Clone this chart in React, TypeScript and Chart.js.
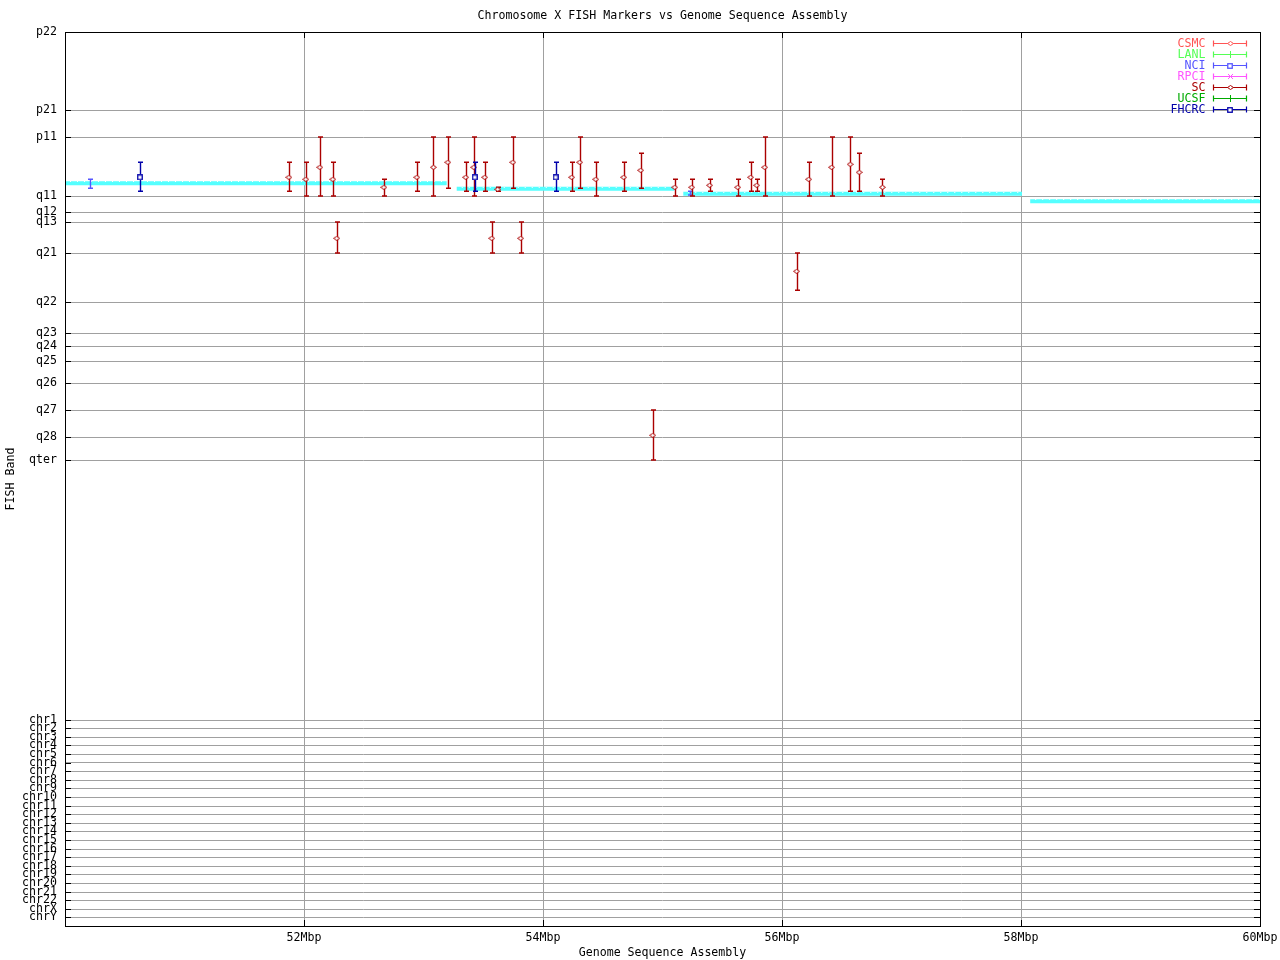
import React, { useEffect, useRef } from "react";
import { Chart, registerables } from "chart.js";

Chart.register(...registerables);

const FONT_FAMILY = '"DejaVu Sans Mono", "Liberation Mono", monospace';
const FONT_SIZE = 11.6;

const chartTitle = "Chromosome X FISH Markers vs Genome Sequence Assembly";
const xTitle = "Genome Sequence Assembly";
const yTitle = "FISH Band";

// Y axis: FISH bands (position along the band axis, top = 0)
const bandLabels = [
  "p22", "p21", "p11", "q11", "q12", "q13", "q21", "q22", "q23", "q24", "q25", "q26", "q27", "q28", "qter",
  "chr1", "chr2", "chr3", "chr4", "chr5", "chr6", "chr7", "chr8", "chr9", "chr10", "chr11", "chr12",
  "chr13", "chr14", "chr15", "chr16", "chr17", "chr18", "chr19", "chr20", "chr21", "chr22", "chrX", "chrY",
];
const bandPos = [
  0, 78, 105, 164, 180, 190, 221, 270, 301, 314, 329, 351, 378, 405, 428,
  688, 696, 705, 713, 722, 730.7, 739, 748, 756.3, 765.3, 774, 782.3,
  791, 799.3, 808.3, 817, 825.3, 834, 842, 851, 860, 868.3, 877.3, 885.3,
];
const bandAxisMax = 894;

// X axis (Mbp)
const xMin = 50;
const xMax = 60;
const xTickValues = [52, 54, 56, 58, 60];

// Legend series
const seriesNames = ["CSMC", "LANL", "NCI", "RPCI", "SC", "UCSF", "FHCRC"];
const seriesColors = ["#ff5555", "#55ff55", "#5555ff", "#ff55ff", "#aa0000", "#00aa00", "#0000aa"];
const seriesMarkers = ["diamond", "plus", "square", "cross", "diamond", "plus", "square"];

// SC markers: position (Mbp), band value, band range low / high
const scX = [
  51.873, 52.015, 52.132, 52.241, 52.274, 52.668, 52.944, 53.083, 53.203, 53.353, 53.42, 53.512,
  53.571, 53.621, 53.747, 53.813, 54.24, 54.307, 54.441, 54.675, 54.817, 54.918, 55.102, 55.244,
  55.394, 55.629, 55.737, 55.788, 55.855, 56.122, 56.223, 56.415, 56.571, 56.646, 56.841,
];
const scY = [
  145.3, 147.3, 135.3, 147.3, 206.3, 155.3, 145.3, 135.3, 130.3, 145.3, 135.3, 145.3,
  206.3, 157.3, 130.3, 206.3, 145.3, 130.3, 147.3, 145.3, 138.3, 403.3, 155.3, 155.3,
  153.3, 155.3, 145.3, 153.3, 135.3, 239.3, 147.3, 135.3, 132.3, 140.3, 155.3,
];
const scLo = [
  130.3, 130.3, 105, 130.3, 190, 147.3, 130.3, 105, 105, 130.3, 105, 130.3,
  190, 155.3, 105, 190, 130.3, 105, 130.3, 130.3, 121.3, 378, 147.3, 147.3,
  147.3, 147.3, 130.3, 147.3, 105, 221, 130.3, 105, 105, 121.3, 147.3,
];
const scHi = [
  159.3, 164, 164, 164, 221, 164, 159.3, 164, 156.3, 159.3, 164, 159.3,
  221, 159.3, 156.3, 221, 159.3, 156.3, 164, 159.3, 156.3, 428, 164, 164,
  159.3, 164, 159.3, 159.3, 164, 258.3, 164, 164, 159.3, 159.3, 164,
];

// FHCRC markers
const fhX = [50.627, 53.429, 54.106];
const fhY = [145.3, 145.3, 145.3];
const fhLo = [130.3, 130.3, 130.3];
const fhHi = [159.3, 159.3, 159.3];

// NCI markers
const nciX = [50.206, 55.23];
const nciY = [151.7, 161.5];
const nciLo = [147.3, 159.3];
const nciHi = [156.3, 163];

// Sequence assembly segments (cyan)
const segStart = [50.0, 53.278, 55.174, 58.077];
const segEnd = [53.194, 55.099, 58.008, 60.0];
const segY = [151.2, 156.7, 161.8, 169.2];

function makeMarker(kind: string, color: string): HTMLCanvasElement {
  const c = document.createElement("canvas");
  const ctx = c.getContext("2d") as CanvasRenderingContext2D;
  if (kind === "diamond") {
    c.width = 7;
    c.height = 5;
    ctx.beginPath();
    ctx.moveTo(0.5, 2.5);
    ctx.lineTo(3.5, 0.5);
    ctx.lineTo(6.5, 2.5);
    ctx.lineTo(3.5, 4.5);
    ctx.closePath();
    ctx.fillStyle = "#ffffff";
    ctx.fill();
    ctx.strokeStyle = color;
    ctx.lineWidth = 1;
    ctx.stroke();
  } else if (kind === "square") {
    c.width = 6;
    c.height = 6;
    ctx.fillStyle = "#ffffff";
    ctx.fillRect(0, 0, 6, 6);
    ctx.strokeStyle = color;
    ctx.lineWidth = 1.3;
    ctx.strokeRect(0.75, 0.75, 4.5, 4.5);
  } else if (kind === "cross") {
    c.width = 7;
    c.height = 7;
    ctx.strokeStyle = color;
    ctx.lineWidth = 1;
    ctx.beginPath();
    ctx.moveTo(1, 1);
    ctx.lineTo(6, 6);
    ctx.moveTo(6, 1);
    ctx.lineTo(1, 6);
    ctx.stroke();
  } else {
    c.width = 3;
    c.height = 7;
    ctx.strokeStyle = color;
    ctx.lineWidth = 1;
    ctx.beginPath();
    ctx.moveTo(1.5, 0);
    ctx.lineTo(1.5, 7);
    ctx.stroke();
  }
  return c;
}

function buildPoints(xs: number[], ys: number[], lo: number[], hi: number[]) {
  return xs.map((x, i) => ({ x, y: ys[i], lo: lo[i], hi: hi[i] }));
}

export default function App() {
  const canvasRef = useRef<HTMLCanvasElement | null>(null);

  useEffect(() => {
    const canvas = canvasRef.current;
    if (!canvas) return;

    const markers = seriesNames.map((_, i) => makeMarker(seriesMarkers[i], seriesColors[i]));
    const colorOf = (name: string) => seriesColors[seriesNames.indexOf(name)];
    const markerOf = (name: string) => markers[seriesNames.indexOf(name)];

    const font = { family: FONT_FAMILY, size: FONT_SIZE, weight: "normal" as const };

    const errorBarPlugin = {
      id: "errorBars",
      beforeDatasetDraw(chart: any, args: any) {
        const ds = chart.data.datasets[args.index];
        if (!ds.errorBars) return;
        const xs = chart.scales.x;
        const ys = chart.scales.y;
        const ctx = chart.ctx as CanvasRenderingContext2D;
        ctx.save();
        ctx.strokeStyle = ds.borderColor;
        ctx.lineWidth = 1.4;
        ctx.lineCap = "butt";
        for (const p of ds.data) {
          const px = Math.round(xs.getPixelForValue(p.x)) + 0.5;
          const top = ys.getPixelForValue(p.lo);
          const bot = ys.getPixelForValue(p.hi);
          ctx.beginPath();
          ctx.moveTo(px, top);
          ctx.lineTo(px, bot);
          ctx.moveTo(px - 2.5, top);
          ctx.lineTo(px + 2.5, top);
          ctx.moveTo(px - 2.5, bot);
          ctx.lineTo(px + 2.5, bot);
          ctx.stroke();
        }
        ctx.restore();
      },
      afterDatasetDraw(chart: any, args: any) {
        const ds = chart.data.datasets[args.index];
        if (!ds.dottedEdge) return;
        const xs = chart.scales.x;
        const ys = chart.scales.y;
        const ctx = chart.ctx as CanvasRenderingContext2D;
        const a = ds.data[0];
        const b = ds.data[ds.data.length - 1];
        const x0 = xs.getPixelForValue(a.x);
        const x1 = xs.getPixelForValue(b.x);
        const yTop = Math.round(ys.getPixelForValue(a.y) - ds.borderWidth / 2) + 0.5;
        ctx.save();
        ctx.strokeStyle = "#ffffff";
        ctx.lineWidth = 1;
        ctx.setLineDash([1, 6]);
        ctx.beginPath();
        ctx.moveTo(x0 + 5, yTop);
        ctx.lineTo(x1, yTop);
        ctx.stroke();
        ctx.restore();
      },
    };

    const framePlugin = {
      id: "frameTicks",
      afterDatasetsDraw(chart: any) {
        const ctx = chart.ctx as CanvasRenderingContext2D;
        const { left, right, top, bottom } = chart.chartArea;
        const xs = chart.scales.x;
        const ys = chart.scales.y;
        ctx.save();
        ctx.strokeStyle = "#000000";
        ctx.lineWidth = 1;
        ctx.beginPath();
        for (const v of bandPos) {
          const py = Math.round(ys.getPixelForValue(v)) + 0.5;
          ctx.moveTo(left, py);
          ctx.lineTo(left + 6, py);
          ctx.moveTo(right, py);
          ctx.lineTo(right - 6, py);
        }
        for (const v of xTickValues) {
          const px = Math.round(xs.getPixelForValue(v)) + 0.5;
          ctx.moveTo(px, bottom);
          ctx.lineTo(px, bottom - 6);
          ctx.moveTo(px, top);
          ctx.lineTo(px, top + 6);
        }
        ctx.stroke();
        ctx.strokeRect(Math.round(left) + 0.5, Math.round(top) + 0.5, Math.round(right - left), Math.round(bottom - top));
        ctx.restore();
      },
    };

    const legendPlugin = {
      id: "insideLegend",
      afterDraw(chart: any) {
        const ctx = chart.ctx as CanvasRenderingContext2D;
        const { right, top } = chart.chartArea;
        const textRight = right - 54.5;
        const lineStart = right - 46.5;
        const lineEnd = right - 13.5;
        const mid = (lineStart + lineEnd) / 2;
        ctx.save();
        ctx.font = `normal ${FONT_SIZE}px ${FONT_FAMILY}`;
        ctx.textAlign = "right";
        ctx.textBaseline = "middle";
        seriesNames.forEach((name, i) => {
          const y = Math.round(top + 11 + i * 11) + 0.5;
          const color = seriesColors[i];
          ctx.fillStyle = color;
          ctx.fillText(name, textRight, y);
          ctx.strokeStyle = color;
          ctx.lineWidth = 1.2;
          ctx.beginPath();
          ctx.moveTo(lineStart, y);
          ctx.lineTo(lineEnd, y);
          ctx.moveTo(lineStart, y - 3);
          ctx.lineTo(lineStart, y + 3);
          ctx.moveTo(lineEnd, y - 3);
          ctx.lineTo(lineEnd, y + 3);
          ctx.stroke();
          const m = markers[i];
          ctx.drawImage(m, Math.round(mid - m.width / 2), Math.round(y - m.height / 2));
        });
        ctx.restore();
      },
    };

    const segmentDatasets = segStart.map((s, i) => ({
      type: "line" as const,
      label: `assembly ${i + 1}`,
      data: [
        { x: s, y: segY[i] },
        { x: segEnd[i], y: segY[i] },
      ],
      borderColor: "#55ffff",
      backgroundColor: "#55ffff",
      borderWidth: 4,
      borderCapStyle: "butt" as const,
      pointRadius: 0,
      dottedEdge: true,
      order: 10,
    }));

    const chart = new Chart(canvas, {
      type: "scatter",
      data: {
        datasets: [
          {
            label: "FHCRC",
            data: buildPoints(fhX, fhY, fhLo, fhHi),
            borderColor: colorOf("FHCRC"),
            backgroundColor: colorOf("FHCRC"),
            pointStyle: markerOf("FHCRC"),
            pointRadius: 3,
            errorBars: true,
            order: 0,
          } as any,
          {
            label: "SC",
            data: buildPoints(scX, scY, scLo, scHi),
            borderColor: colorOf("SC"),
            backgroundColor: colorOf("SC"),
            pointStyle: markerOf("SC"),
            pointRadius: 3,
            errorBars: true,
            order: 1,
          } as any,
          {
            label: "NCI",
            data: buildPoints(nciX, nciY, nciLo, nciHi),
            borderColor: colorOf("NCI"),
            backgroundColor: colorOf("NCI"),
            pointRadius: 0,
            errorBars: true,
            order: 2,
          } as any,
          ...(segmentDatasets as any[]),
        ],
      },
      options: {
        animation: false,
        responsive: false,
        devicePixelRatio: 1,
        events: [],
        layout: { padding: { left: 0, right: 20, top: 0, bottom: 0 } },
        plugins: {
          legend: { display: false },
          tooltip: { enabled: false },
          title: {
            display: true,
            text: chartTitle,
            color: "#000000",
            fullSize: false,
            font,
            padding: { top: 8.8, bottom: 9.28 },
          },
        },
        scales: {
          x: {
            type: "linear",
            min: xMin,
            max: xMax,
            afterBuildTicks: (s: any) => {
              s.ticks = xTickValues.map((v) => ({ value: v }));
            },
            afterFit: (s: any) => {
              s.height = 34;
              s.paddingLeft = 0;
              s.paddingRight = 0;
            },
            ticks: {
              autoSkip: false,
              maxRotation: 0,
              padding: 5,
              color: "#000000",
              font,
              callback: (v: any) => `${v}Mbp`,
            },
            grid: { color: "#a0a0a0", lineWidth: 1, drawTicks: false },
            border: { display: false },
            title: {
              display: true,
              text: xTitle,
              color: "#000000",
              font,
              padding: { top: 0, bottom: 0 },
            },
          },
          y: {
            type: "linear",
            min: 0,
            max: bandAxisMax,
            reverse: true,
            afterBuildTicks: (s: any) => {
              s.ticks = bandPos.map((v) => ({ value: v }));
            },
            afterFit: (s: any) => {
              s.width = 65;
              s.paddingTop = 0;
              s.paddingBottom = 0;
            },
            ticks: {
              autoSkip: false,
              padding: 8,
              color: "#000000",
              font,
              callback: (v: any) => {
                const i = bandPos.indexOf(Number(v));
                return i >= 0 ? bandLabels[i] : "";
              },
            },
            grid: { color: "#a0a0a0", lineWidth: 1, drawTicks: false },
            border: { display: false },
            title: {
              display: true,
              text: yTitle,
              color: "#000000",
              font,
              padding: { top: 4, bottom: 0 },
            },
          },
        },
      } as any,
      plugins: [errorBarPlugin, framePlugin, legendPlugin],
    });

    return () => {
      chart.destroy();
    };
  }, []);

  return (
    <div style={{ position: "absolute", left: 0, top: 0, width: 1280, height: 960, background: "#ffffff" }}>
      <canvas ref={canvasRef} width={1280} height={960} style={{ width: 1280, height: 960, display: "block" }} />
    </div>
  );
}
